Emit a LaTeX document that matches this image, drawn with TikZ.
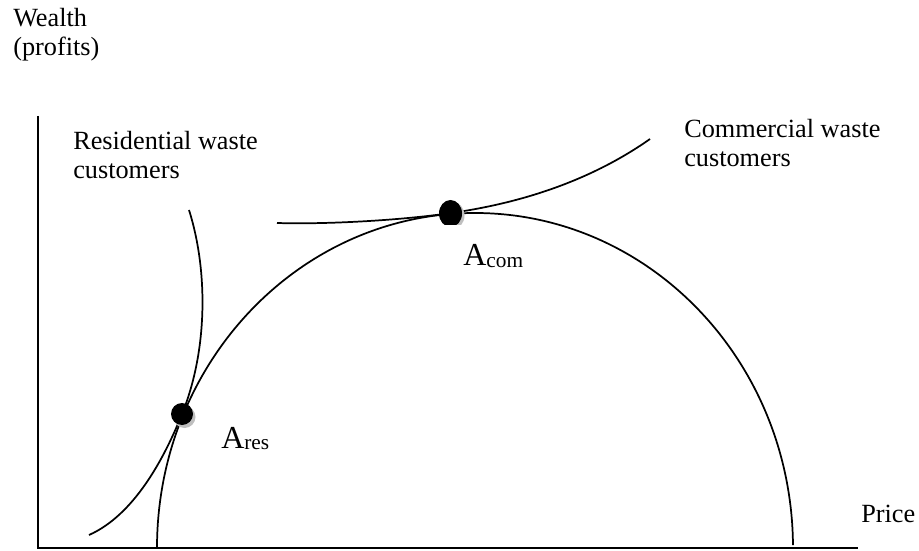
\documentclass[tikz,border=0pt]{standalone}
\usepackage{fontspec}
\setmainfont{Liberation Serif}
\begin{document}
\begin{tikzpicture}[x=0.75pt,y=0.75pt,
  lbl/.style={anchor=base west,inner sep=0pt,font=\fontsize{19.7}{22}\selectfont},
  alab/.style={anchor=base west,inner sep=0pt,font=\fontsize{24}{26}\selectfont},
  axis/.style={line width=1.6pt},
  crv/.style={line width=1.3pt},
  dotshadow/.style={fill=black!25},
  dotfill/.style={fill=black}]
\useasboundingbox (0,0) rectangle (919,550);
% axes
\coordinate (top) at (38,434);
\coordinate (orig) at (38,2);
\coordinate (xend) at (858,2);
\draw[axis] (top) -- (orig) -- (xend);
% profit arc
\coordinate (arcL) at (157,2);
\draw[crv] (arcL) arc[start angle=180, end angle=0.5, x radius=318, y radius=335];
% residential curve
\coordinate (resT) at (189,340);
\coordinate (Ares) at (182,136);
\coordinate (resB) at (89,15);
\draw[crv] (resT) .. controls (208,280) and (208,200) .. (Ares)
  .. controls (164,91) and (134,35) .. (resB);
% commercial curve
\coordinate (comL) at (277,327);
\coordinate (Acom) at (451,337);
\coordinate (comR) at (650,411);
\draw[crv] (comL) .. controls (327,325.5) and (401,329.7) .. (Acom)
  .. controls (529,348) and (596,373) .. (comR);
% dots
\fill[dotshadow] ([shift={(2.5,-3)}]Ares) circle[radius=11];
\fill[dotfill] (Ares) circle[radius=11];
\begin{scope}
  \clip (430,325) rectangle (475,360);
  \fill[dotshadow] (453,334.5) ellipse[x radius=11.5, y radius=13.5];
  \fill[dotfill] (450.5,336.5) ellipse[x radius=11.5, y radius=13.5];
\end{scope}
% labels
\node[lbl] (w1) at (13,523) {Wealth};
\node[lbl] (w2) at (13,494) {(profits)};
\node[lbl] (r1) at (73,400) {Residential waste};
\node[lbl] (r2) at (73,371) {customers};
\node[lbl] (c1) at (684,412) {Commercial waste};
\node[lbl] (c2) at (684,383) {customers};
\node[lbl] (pr) at (861,28) {Price};
\node[alab] (lcom) at (463,284) {A\raisebox{-1pt}{\fontsize{16}{16}\selectfont com}};
\node[alab] (lres) at (221,102) {A\raisebox{-1pt}{\fontsize{16}{16}\selectfont res}};
\end{tikzpicture}
\end{document}
